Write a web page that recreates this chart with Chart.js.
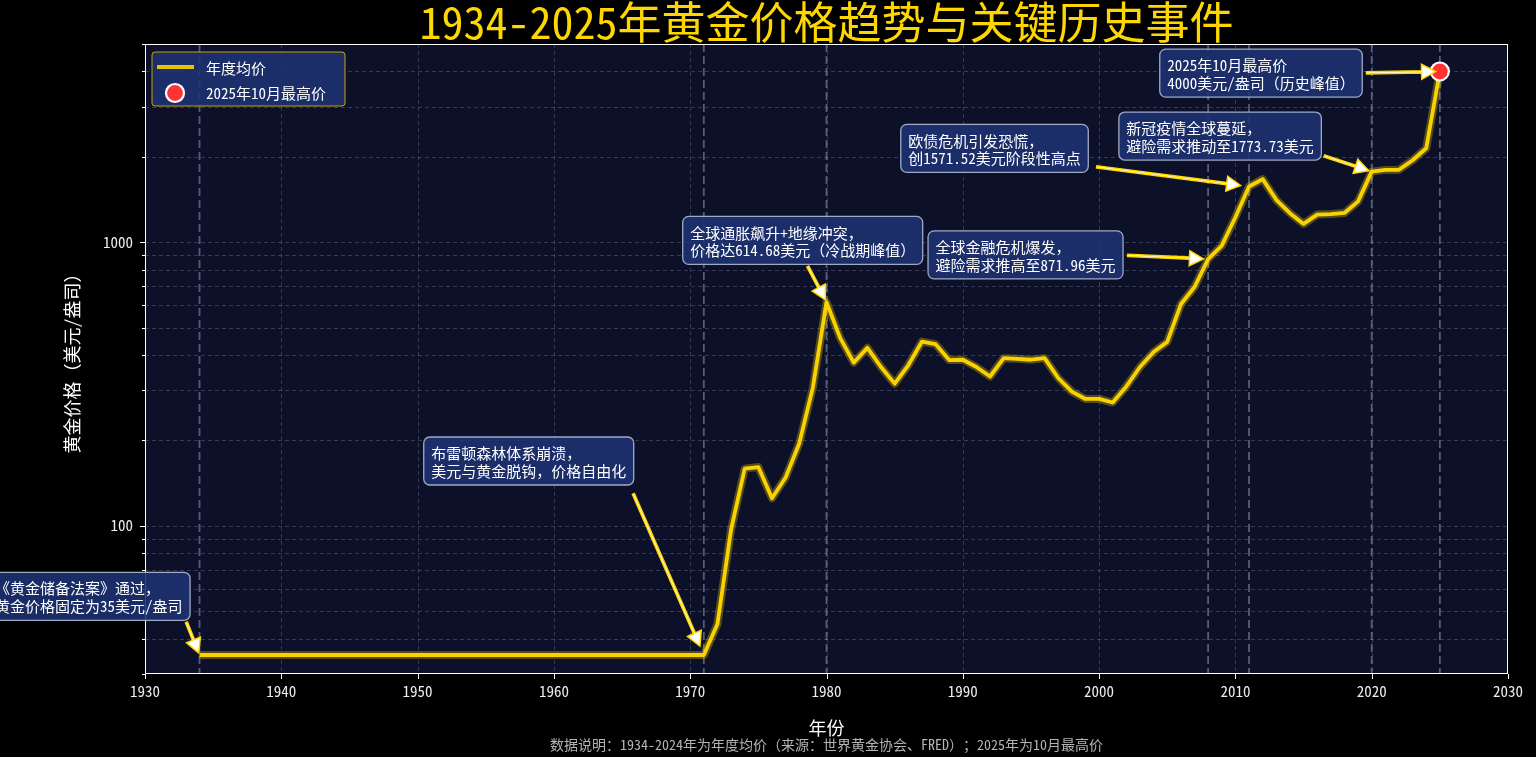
<!DOCTYPE html>
<html><head><meta charset="utf-8">
<script src="https://cdn.jsdelivr.net/npm/chart.js@4.4.1/dist/chart.umd.min.js"></script>
<style>html,body{margin:0;padding:0;background:#000;overflow:hidden}#wrap{width:1536px;height:757px}</style>
</head><body>
<div id="wrap"><canvas id="c" width="1536" height="757"></canvas></div>
<script>
// ---------------- DATA ----------------
const years = [1934,1935,1936,1937,1938,1939,1940,1941,1942,1943,1944,1945,1946,1947,1948,1949,
  1950,1951,1952,1953,1954,1955,1956,1957,1958,1959,1960,1961,1962,1963,1964,1965,1966,1967,1968,1969,
  1970,1971,1972,1973,1974,1975,1976,1977,1978,1979,1980,1981,1982,1983,1984,1985,1986,1987,1988,1989,
  1990,1991,1992,1993,1994,1995,1996,1997,1998,1999,2000,2001,2002,2003,2004,2005,2006,2007,2008,2009,
  2010,2011,2012,2013,2014,2015,2016,2017,2018,2019,2020,2021,2022,2023,2024,2025];
const prices = [35,35,35,35,35,35,35,35,35,35,35,35,35,35,35,35,
  35,35,35,35,35,35,35,35,35,35,35,35,35,35,35,35,35,35,35,35,
  35,35,45,97,159,161,125,148,195,307,614.68,460,376,424,363,317,368,446,437,384,
  385,363,336,390,388,385,390,332,297,280,280,272,310,363,410,445,604,695,871.96,972,
  1225,1571.52,1669,1411,1266,1160,1251,1257,1268,1393,1773.73,1799,1800,1945,2145,4000];
const peakYear = 2025;
const peakPrice = 4000;
const eventYears = [1934,1971,1980,2008,2011,2020,2025];
const yGridTicks = [30,40,50,60,70,80,90,100,200,300,400,500,600,700,800,900,1000,2000,3000,4000,5000];
const yTickLabels = [100,1000];
const titleText = '1934-2025年黄金价格趋势与关键历史事件';
const seriesLabel = '年度均价';
const peakLabel = '2025年10月最高价';
const xAxisTitle = '年份';
const yAxisTitle = '黄金价格（美元/盎司）';
const footnote = '数据说明：1934-2024年为年度均价（来源：世界黄金协会、FRED）；2025年为10月最高价';
const eventTexts = [
  ['《黄金储备法案》通过，','黄金价格固定为35美元/盎司'],
  ['布雷顿森林体系崩溃，','美元与黄金脱钩，价格自由化'],
  ['全球通胀飙升+地缘冲突，','价格达614.68美元（冷战期峰值）'],
  ['全球金融危机爆发，','避险需求推高至871.96美元'],
  ['欧债危机引发恐慌，','创1571.52美元阶段性高点'],
  ['新冠疫情全球蔓延，','避险需求推动至1773.73美元'],
  ['2025年10月最高价','4000美元/盎司（历史峰值）']
];
// ---------------- LAYOUT (annotation text anchors in data coords) ----------------
const textAnchorX = [1919,1951,1970,1988,1986,2002,2005];
const textAnchorY = [50,150,900,800,1900,2100,3500];

const FONT = "'Noto Sans Mono CJK SC','Noto Sans CJK SC','Noto Sans',sans-serif";
const GOLD = '#FFD700';

const lineData = years.map((y,i)=>({x:y, y:prices[i]}));

const decor = {
  id:'decor',
  beforeDraw(chart){
    const {ctx, chartArea:a} = chart;
    ctx.save();
    ctx.fillStyle='#000'; ctx.fillRect(0,0,chart.width,chart.height);
    ctx.fillStyle='#0c1129'; ctx.fillRect(a.left,a.top,a.right-a.left,a.bottom-a.top);
    ctx.restore();
  },
  beforeDatasetsDraw(chart){
    const {ctx, chartArea:a, scales:{x,y}} = chart;
    ctx.save();
    ctx.beginPath(); ctx.rect(a.left,a.top,a.right-a.left,a.bottom-a.top); ctx.clip();
    ctx.strokeStyle='rgba(200,205,225,0.22)'; ctx.lineWidth=1; ctx.setLineDash([4,3]);
    y.ticks.forEach(t=>{const p=Math.round(y.getPixelForValue(t.value))+0.5; ctx.beginPath(); ctx.moveTo(a.left,p); ctx.lineTo(a.right,p); ctx.stroke();});
    x.ticks.forEach(t=>{const p=Math.round(x.getPixelForValue(t.value))+0.5; ctx.beginPath(); ctx.moveTo(p,a.top); ctx.lineTo(p,a.bottom); ctx.stroke();});
    ctx.strokeStyle='rgba(160,168,195,0.5)'; ctx.lineWidth=1.8; ctx.setLineDash([8,4]);
    eventYears.forEach(ev=>{const p=x.getPixelForValue(ev); ctx.beginPath(); ctx.moveTo(p,a.top); ctx.lineTo(p,a.bottom); ctx.stroke();});
    ctx.restore();
  },
  afterDatasetsDraw(chart){
    const {ctx, chartArea:a, scales:{x,y}} = chart;
    ctx.save();
    ctx.strokeStyle='#ffffff'; ctx.lineWidth=1; ctx.setLineDash([]);
    ctx.strokeRect(a.left+0.5,a.top+0.5,a.right-a.left-1,a.bottom-a.top-1);
    x.ticks.forEach(t=>{const p=Math.round(x.getPixelForValue(t.value))+0.5; ctx.beginPath(); ctx.moveTo(p,a.bottom); ctx.lineTo(p,a.bottom+5); ctx.stroke();});
    y.ticks.forEach(t=>{const p=Math.round(y.getPixelForValue(t.value))+0.5; const L=yTickLabels.includes(t.value)?5:3; ctx.beginPath(); ctx.moveTo(a.left,p); ctx.lineTo(a.left-L,p); ctx.stroke();});
    const fs=15, gap=17.5, pad=7.5;
    ctx.font = fs+'px '+FONT;
    eventTexts.forEach((lines,i)=>{
      const ev = eventYears[i];
      const tv = (ev===peakYear) ? peakPrice : prices[years.indexOf(ev)];
      const tx = x.getPixelForValue(ev), ty = y.getPixelForValue(tv);
      const left = x.getPixelForValue(textAnchorX[i]);
      const base = y.getPixelForValue(textAnchorY[i]);
      const w = Math.max(...lines.map(s=>ctx.measureText(s).width));
      const box = {l:left-pad, r:left+w+pad, b:base+9.2}; box.t = box.b-48;
      const ext = {l:left, r:left+w, t:box.t+pad, b:box.b-pad};
      ctx.beginPath(); ctx.roundRect(box.l,box.t,box.r-box.l,box.b-box.t,6);
      ctx.fillStyle='rgba(30,50,115,0.88)'; ctx.fill();
      ctx.strokeStyle='rgba(175,185,210,0.9)'; ctx.lineWidth=1.3; ctx.stroke();
      ctx.fillStyle='#ffffff'; ctx.textAlign='left'; ctx.textBaseline='middle';
      const c2 = base-4.8, c1 = c2-gap;
      ctx.fillText(lines[0], left, c1); ctx.fillText(lines[1], left, c2);
      const xs=[ext.l,(ext.l+ext.r)/2,ext.r], ys=[ext.t,(ext.t+ext.b)/2,ext.b];
      const sx = xs.reduce((p,c)=>Math.abs(c-tx)<Math.abs(p-tx)?c:p);
      const sy = ys.reduce((p,c)=>Math.abs(c-ty)<Math.abs(p-ty)?c:p);
      const dx=tx-sx, dy=ty-sy, r=Math.hypot(dx,dy), ux=dx/r, uy=dy/r;
      let te=Infinity;
      if(ux>0) te=Math.min(te,(box.r-sx)/ux); if(ux<0) te=Math.min(te,(box.l-sx)/ux);
      if(uy>0) te=Math.min(te,(box.b-sy)/uy); if(uy<0) te=Math.min(te,(box.t-sy)/uy);
      const sh=0.05*r, t0=te+sh, t1=r-sh;
      const x0=sx+ux*t0, y0=sy+uy*t0, x1=sx+ux*t1, y1=sy+uy*t1;
      const hl=Math.min(14,t1-t0), hw=15, sw=2.2;
      const bx=x1-ux*hl, by=y1-uy*hl, px=-uy, py=ux;
      ctx.beginPath();
      ctx.moveTo(x0+px*sw/2,y0+py*sw/2);
      ctx.lineTo(bx+px*sw/2,by+py*sw/2);
      ctx.lineTo(bx+px*hw/2,by+py*hw/2);
      ctx.lineTo(x1,y1);
      ctx.lineTo(bx-px*hw/2,by-py*hw/2);
      ctx.lineTo(bx-px*sw/2,by-py*sw/2);
      ctx.lineTo(x0-px*sw/2,y0-py*sw/2);
      ctx.closePath();
      ctx.fillStyle='#ffffff'; ctx.fill();
      ctx.strokeStyle=GOLD; ctx.lineWidth=1.5; ctx.lineJoin='miter'; ctx.stroke();
    });
    ctx.restore();
  },
  afterDraw(chart){
    const {ctx, chartArea:a} = chart;
    ctx.save();
    ctx.font='15px '+FONT;
    const ds = chart.data.datasets;
    const labels=[ds[1].label, ds[0].label];
    const w = 54 + Math.max(...labels.map(s=>ctx.measureText(s).width)) + 19;
    const bl=a.left+7, bt=a.top+8, bh=54;
    ctx.beginPath(); ctx.roundRect(bl,bt,w,bh,3);
    ctx.fillStyle='rgba(30,50,115,0.88)'; ctx.fill();
    ctx.strokeStyle='rgba(215,180,0,0.9)'; ctx.lineWidth=1; ctx.stroke();
    ctx.strokeStyle='#e8c400'; ctx.lineWidth=4; ctx.beginPath(); ctx.moveTo(bl+5,bt+15); ctx.lineTo(bl+42,bt+15); ctx.stroke();
    ctx.beginPath(); ctx.arc(bl+23,bt+41,9,0,Math.PI*2); ctx.fillStyle='#ff3333'; ctx.fill();
    ctx.strokeStyle='#ffffff'; ctx.lineWidth=2.2; ctx.stroke();
    ctx.fillStyle='#ffffff'; ctx.textAlign='left'; ctx.textBaseline='middle';
    ctx.fillText(labels[0], bl+54, bt+16);
    ctx.fillText(labels[1], bl+54, bt+41);
    ctx.font='14px '+FONT; ctx.fillStyle='#b4b4b4'; ctx.textAlign='center';
    ctx.fillText(footnote, (a.left+a.right)/2, 745);
    ctx.restore();
  }
};

new Chart(document.getElementById('c'), {
  type:'line',
  data:{datasets:[
    {label:peakLabel, data:[{x:peakYear,y:peakPrice}], showLine:false, pointRadius:9, pointHoverRadius:9,
     pointBackgroundColor:'#ff3333', pointBorderColor:'#ffffff', pointBorderWidth:2.2, order:0},
    {label:seriesLabel, data:lineData, borderColor:'rgba(255,215,0,0.97)', borderWidth:3.8, pointRadius:0,
     tension:0, borderJoinStyle:'round', order:1},
    {label:seriesLabel+'_glow', data:lineData, borderColor:'rgba(255,215,0,0.3)', borderWidth:8, pointRadius:0,
     tension:0, borderJoinStyle:'round', order:2}
  ]},
  options:{
    responsive:false, animation:false, devicePixelRatio:1,
    layout:{padding:{left:0,right:28,top:0,bottom:0}},
    plugins:{
      legend:{display:false}, tooltip:{enabled:false},
      title:{display:true, text:titleText, color:GOLD, fullSize:false,
        font:{family:FONT,size:44,lineHeight:1.0,weight:'normal'}, padding:{top:0,bottom:0}}
    },
    scales:{
      x:{type:'linear', min:1930, max:2030,
        ticks:{stepSize:10, color:'#ececec', font:{family:FONT,size:15}, padding:8, autoSkip:false, maxRotation:0,
          callback:v=>String(v)},
        grid:{display:false, drawTicks:false}, border:{display:false},
        title:{display:true, text:xAxisTitle, color:'#ffffff', font:{family:FONT,size:18}, padding:{top:0,bottom:17.7}},
        afterFit:s=>{s.height=83;}},
      y:{type:'logarithmic', min:30, max:5000,
        afterBuildTicks:s=>{s.ticks=yGridTicks.map(v=>({value:v, major:yTickLabels.includes(v)}));},
        ticks:{color:'#ececec', font:{family:FONT,size:15}, padding:12, autoSkip:false,
          callback:v=>yTickLabels.includes(v)?String(v):''},
        grid:{display:false, drawTicks:false}, border:{display:false},
        title:{display:true, text:yAxisTitle, color:'#ffffff', font:{family:FONT,size:18}, padding:{top:61,bottom:0}},
        afterFit:s=>{s.width=145;}}
    }
  },
  plugins:[decor]
});
</script>
</body></html>
